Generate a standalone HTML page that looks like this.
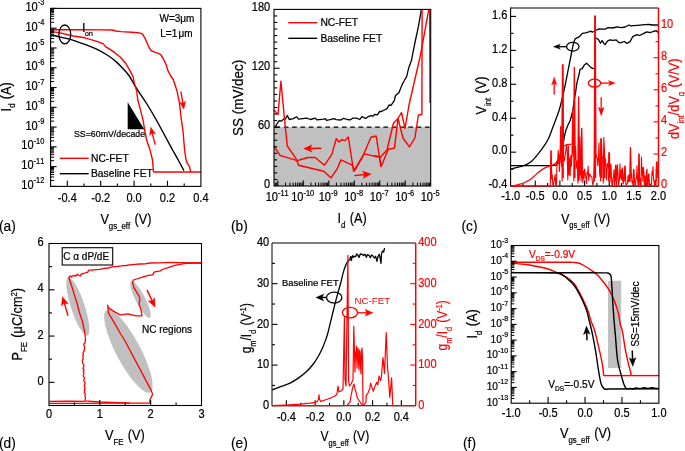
<!DOCTYPE html>
<html><head><meta charset="utf-8"><style>
html,body{margin:0;padding:0;background:#fff;overflow:hidden;}
svg{display:block;font-family:"Liberation Sans",sans-serif;will-change:transform;font-variant-ligatures:none;font-kerning:none;}
</style></head><body>
<svg width="685" height="451" viewBox="0 0 685 451">
<rect width="685" height="451" fill="#fff"/>
<path d="M50.6,34.8 C50.6,34.8 56.86,36.38 60,37.1 C63.13,37.82 66.45,38.3 69.4,39.1 C72.09,39.83 74.44,40.73 77,41.6 C79.64,42.49 82.13,43.32 85,44.4 C88.41,45.69 92.45,47.16 96.1,48.9 C99.85,50.68 103.79,52.8 107.2,55 C110.38,57.05 113.34,59.29 116,61.6 C118.47,63.74 120.52,65.94 122.7,68.3 C124.96,70.74 127.41,73.33 129.3,76 C131.08,78.51 132.18,81.12 133.8,83.8 C135.56,86.71 137.48,89.68 139.5,92.8 C141.72,96.22 144.15,99.6 146.6,103.5 C149.45,108.05 152.46,113.14 155.5,118.5 C158.93,124.54 163,132.28 166.1,138 C168.53,142.48 170.5,146.19 172.6,150 C174.52,153.49 176.34,156.61 178.2,160 C180.11,163.47 183.9,170.6 183.9,170.6" fill="none" stroke="#000" stroke-width="1.4" stroke-linejoin="round" />
<polyline points="50.6,29.8 80,29.8 100,29.9 112,30 116,31 121,31.6 131.7,32.2 138.3,32.7 142.5,33.9 145,38.3 147.2,43.3 149.4,48.3 151.6,51 154.9,52.2 158.3,53.3 161,54.9 163.8,59.9 166,64.3 167.9,70.6 170.5,75.5 173.2,79.5 176.8,90.2 179.4,102.6 181.2,118.5 183,131 184.6,150 185.9,159.3 187.3,163.3 189.5,166.6 190.3,170 190.6,172" fill="none" stroke="#f00" stroke-width="1.4" stroke-linejoin="round" />
<polyline points="50.6,31.4 60,32.9 73.3,36 85,37.8 96.1,41.1 103.3,43.9 105.5,46.6 112.7,51.1 120.5,57.2 126,63.8 130.5,71.6 133.2,77.1 134.2,82.7 136.7,91 137.9,100.8 140.4,109.6 143.1,120.3 144.8,131 146.6,140 149.8,149.2 152.5,160 153.5,172" fill="none" stroke="#f00" stroke-width="1.4" stroke-linejoin="round" />
<line x1="153.5" y1="172" x2="200.9" y2="172" stroke="#f00" stroke-width="1.4" />
<polygon points="127.7,102.2 127.7,129.3 144.2,129.3" fill="#000"/>
<text transform="translate(74 137.4)" font-size="8.8" text-anchor="start" fill="#000" stroke="#000" stroke-width="0.22">SS=60mV/decade</text>
<ellipse cx="64.8" cy="34.4" rx="5.9" ry="9.4" fill="none" stroke="#000" stroke-width="1.3"/>
<text transform="translate(82 31.9)" font-size="12.5" text-anchor="start" fill="#000" stroke="#000" stroke-width="0.22">I</text>
<text transform="translate(84.7 36.2)" font-size="7.5" text-anchor="start" fill="#000" stroke="#000" stroke-width="0.22">on</text>
<text transform="translate(159.5 22.2)" font-size="10" text-anchor="start" fill="#000" stroke="#000" stroke-width="0.22">W=3μm</text>
<text transform="translate(160.3 36.6)" font-size="10" text-anchor="start" fill="#000" stroke="#000" stroke-width="0.22">L=1<tspan dx="1.3">μm</tspan></text>
<line x1="180.9" y1="91.5" x2="182.95" y2="103.64" stroke="#f00" stroke-width="1.4" />
<polygon points="183.9,109.3 179.41,101.94 182.86,103.15 185.73,100.88" fill="#f00" stroke="#f00" stroke-width="0.3" stroke-linejoin="round"/>
<line x1="155.2" y1="144.7" x2="152.11" y2="132.56" stroke="#f00" stroke-width="1.4" />
<polygon points="150.7,127 155.77,133.96 152.24,133.05 149.57,135.54" fill="#f00" stroke="#f00" stroke-width="0.3" stroke-linejoin="round"/>
<line x1="59.8" y1="158.3" x2="88.7" y2="158.3" stroke="#f00" stroke-width="1.4" />
<text transform="translate(91 161.6)" font-size="10.3" text-anchor="start" fill="#000" stroke="#000" stroke-width="0.22">NC-FET</text>
<line x1="59.8" y1="173.7" x2="88.7" y2="173.7" stroke="#000" stroke-width="1.4" />
<text transform="translate(91 176.9)" font-size="10.3" text-anchor="start" fill="#000" stroke="#000" stroke-width="0.22">Baseline FET</text>
<rect x="50.6" y="8.4" width="150.3" height="178" fill="none" stroke="#000" stroke-width="1.1"/>
<line x1="67.3" y1="186.4" x2="67.3" y2="180.8" stroke="#000" stroke-width="1.1" />
<line x1="84" y1="186.4" x2="84" y2="183.6" stroke="#000" stroke-width="1.1" />
<line x1="100.7" y1="186.4" x2="100.7" y2="180.8" stroke="#000" stroke-width="1.1" />
<line x1="117.4" y1="186.4" x2="117.4" y2="183.6" stroke="#000" stroke-width="1.1" />
<line x1="134.1" y1="186.4" x2="134.1" y2="180.8" stroke="#000" stroke-width="1.1" />
<line x1="150.8" y1="186.4" x2="150.8" y2="183.6" stroke="#000" stroke-width="1.1" />
<line x1="167.5" y1="186.4" x2="167.5" y2="180.8" stroke="#000" stroke-width="1.1" />
<line x1="184.2" y1="186.4" x2="184.2" y2="183.6" stroke="#000" stroke-width="1.1" />
<line x1="50.6" y1="186.4" x2="56.6" y2="186.4" stroke="#000" stroke-width="1.1" />
<line x1="50.6" y1="180.45" x2="54.1" y2="180.45" stroke="#000" stroke-width="1" />
<line x1="50.6" y1="176.96" x2="54.1" y2="176.96" stroke="#000" stroke-width="1" />
<line x1="50.6" y1="174.49" x2="54.1" y2="174.49" stroke="#000" stroke-width="1" />
<line x1="50.6" y1="172.58" x2="54.1" y2="172.58" stroke="#000" stroke-width="1" />
<line x1="50.6" y1="171.01" x2="54.1" y2="171.01" stroke="#000" stroke-width="1" />
<line x1="50.6" y1="169.69" x2="54.1" y2="169.69" stroke="#000" stroke-width="1" />
<line x1="50.6" y1="168.54" x2="54.1" y2="168.54" stroke="#000" stroke-width="1" />
<line x1="50.6" y1="167.53" x2="54.1" y2="167.53" stroke="#000" stroke-width="1" />
<line x1="50.6" y1="166.62" x2="56.6" y2="166.62" stroke="#000" stroke-width="1.1" />
<line x1="50.6" y1="160.67" x2="54.1" y2="160.67" stroke="#000" stroke-width="1" />
<line x1="50.6" y1="157.19" x2="54.1" y2="157.19" stroke="#000" stroke-width="1" />
<line x1="50.6" y1="154.71" x2="54.1" y2="154.71" stroke="#000" stroke-width="1" />
<line x1="50.6" y1="152.8" x2="54.1" y2="152.8" stroke="#000" stroke-width="1" />
<line x1="50.6" y1="151.23" x2="54.1" y2="151.23" stroke="#000" stroke-width="1" />
<line x1="50.6" y1="149.91" x2="54.1" y2="149.91" stroke="#000" stroke-width="1" />
<line x1="50.6" y1="148.76" x2="54.1" y2="148.76" stroke="#000" stroke-width="1" />
<line x1="50.6" y1="147.75" x2="54.1" y2="147.75" stroke="#000" stroke-width="1" />
<line x1="50.6" y1="146.84" x2="56.6" y2="146.84" stroke="#000" stroke-width="1.1" />
<line x1="50.6" y1="140.89" x2="54.1" y2="140.89" stroke="#000" stroke-width="1" />
<line x1="50.6" y1="137.41" x2="54.1" y2="137.41" stroke="#000" stroke-width="1" />
<line x1="50.6" y1="134.94" x2="54.1" y2="134.94" stroke="#000" stroke-width="1" />
<line x1="50.6" y1="133.02" x2="54.1" y2="133.02" stroke="#000" stroke-width="1" />
<line x1="50.6" y1="131.45" x2="54.1" y2="131.45" stroke="#000" stroke-width="1" />
<line x1="50.6" y1="130.13" x2="54.1" y2="130.13" stroke="#000" stroke-width="1" />
<line x1="50.6" y1="128.98" x2="54.1" y2="128.98" stroke="#000" stroke-width="1" />
<line x1="50.6" y1="127.97" x2="54.1" y2="127.97" stroke="#000" stroke-width="1" />
<line x1="50.6" y1="127.07" x2="56.6" y2="127.07" stroke="#000" stroke-width="1.1" />
<line x1="50.6" y1="121.11" x2="54.1" y2="121.11" stroke="#000" stroke-width="1" />
<line x1="50.6" y1="117.63" x2="54.1" y2="117.63" stroke="#000" stroke-width="1" />
<line x1="50.6" y1="115.16" x2="54.1" y2="115.16" stroke="#000" stroke-width="1" />
<line x1="50.6" y1="113.24" x2="54.1" y2="113.24" stroke="#000" stroke-width="1" />
<line x1="50.6" y1="111.68" x2="54.1" y2="111.68" stroke="#000" stroke-width="1" />
<line x1="50.6" y1="110.35" x2="54.1" y2="110.35" stroke="#000" stroke-width="1" />
<line x1="50.6" y1="109.21" x2="54.1" y2="109.21" stroke="#000" stroke-width="1" />
<line x1="50.6" y1="108.19" x2="54.1" y2="108.19" stroke="#000" stroke-width="1" />
<line x1="50.6" y1="107.29" x2="56.6" y2="107.29" stroke="#000" stroke-width="1.1" />
<line x1="50.6" y1="101.34" x2="54.1" y2="101.34" stroke="#000" stroke-width="1" />
<line x1="50.6" y1="97.85" x2="54.1" y2="97.85" stroke="#000" stroke-width="1" />
<line x1="50.6" y1="95.38" x2="54.1" y2="95.38" stroke="#000" stroke-width="1" />
<line x1="50.6" y1="93.46" x2="54.1" y2="93.46" stroke="#000" stroke-width="1" />
<line x1="50.6" y1="91.9" x2="54.1" y2="91.9" stroke="#000" stroke-width="1" />
<line x1="50.6" y1="90.57" x2="54.1" y2="90.57" stroke="#000" stroke-width="1" />
<line x1="50.6" y1="89.43" x2="54.1" y2="89.43" stroke="#000" stroke-width="1" />
<line x1="50.6" y1="88.42" x2="54.1" y2="88.42" stroke="#000" stroke-width="1" />
<line x1="50.6" y1="87.51" x2="56.6" y2="87.51" stroke="#000" stroke-width="1.1" />
<line x1="50.6" y1="81.56" x2="54.1" y2="81.56" stroke="#000" stroke-width="1" />
<line x1="50.6" y1="78.07" x2="54.1" y2="78.07" stroke="#000" stroke-width="1" />
<line x1="50.6" y1="75.6" x2="54.1" y2="75.6" stroke="#000" stroke-width="1" />
<line x1="50.6" y1="73.69" x2="54.1" y2="73.69" stroke="#000" stroke-width="1" />
<line x1="50.6" y1="72.12" x2="54.1" y2="72.12" stroke="#000" stroke-width="1" />
<line x1="50.6" y1="70.8" x2="54.1" y2="70.8" stroke="#000" stroke-width="1" />
<line x1="50.6" y1="69.65" x2="54.1" y2="69.65" stroke="#000" stroke-width="1" />
<line x1="50.6" y1="68.64" x2="54.1" y2="68.64" stroke="#000" stroke-width="1" />
<line x1="50.6" y1="67.73" x2="56.6" y2="67.73" stroke="#000" stroke-width="1.1" />
<line x1="50.6" y1="61.78" x2="54.1" y2="61.78" stroke="#000" stroke-width="1" />
<line x1="50.6" y1="58.3" x2="54.1" y2="58.3" stroke="#000" stroke-width="1" />
<line x1="50.6" y1="55.83" x2="54.1" y2="55.83" stroke="#000" stroke-width="1" />
<line x1="50.6" y1="53.91" x2="54.1" y2="53.91" stroke="#000" stroke-width="1" />
<line x1="50.6" y1="52.34" x2="54.1" y2="52.34" stroke="#000" stroke-width="1" />
<line x1="50.6" y1="51.02" x2="54.1" y2="51.02" stroke="#000" stroke-width="1" />
<line x1="50.6" y1="49.87" x2="54.1" y2="49.87" stroke="#000" stroke-width="1" />
<line x1="50.6" y1="48.86" x2="54.1" y2="48.86" stroke="#000" stroke-width="1" />
<line x1="50.6" y1="47.96" x2="56.6" y2="47.96" stroke="#000" stroke-width="1.1" />
<line x1="50.6" y1="42" x2="54.1" y2="42" stroke="#000" stroke-width="1" />
<line x1="50.6" y1="38.52" x2="54.1" y2="38.52" stroke="#000" stroke-width="1" />
<line x1="50.6" y1="36.05" x2="54.1" y2="36.05" stroke="#000" stroke-width="1" />
<line x1="50.6" y1="34.13" x2="54.1" y2="34.13" stroke="#000" stroke-width="1" />
<line x1="50.6" y1="32.57" x2="54.1" y2="32.57" stroke="#000" stroke-width="1" />
<line x1="50.6" y1="31.24" x2="54.1" y2="31.24" stroke="#000" stroke-width="1" />
<line x1="50.6" y1="30.09" x2="54.1" y2="30.09" stroke="#000" stroke-width="1" />
<line x1="50.6" y1="29.08" x2="54.1" y2="29.08" stroke="#000" stroke-width="1" />
<line x1="50.6" y1="28.18" x2="56.6" y2="28.18" stroke="#000" stroke-width="1.1" />
<line x1="50.6" y1="22.22" x2="54.1" y2="22.22" stroke="#000" stroke-width="1" />
<line x1="50.6" y1="18.74" x2="54.1" y2="18.74" stroke="#000" stroke-width="1" />
<line x1="50.6" y1="16.27" x2="54.1" y2="16.27" stroke="#000" stroke-width="1" />
<line x1="50.6" y1="14.35" x2="54.1" y2="14.35" stroke="#000" stroke-width="1" />
<line x1="50.6" y1="12.79" x2="54.1" y2="12.79" stroke="#000" stroke-width="1" />
<line x1="50.6" y1="11.46" x2="54.1" y2="11.46" stroke="#000" stroke-width="1" />
<line x1="50.6" y1="10.32" x2="54.1" y2="10.32" stroke="#000" stroke-width="1" />
<line x1="50.6" y1="9.3" x2="54.1" y2="9.3" stroke="#000" stroke-width="1" />
<line x1="50.6" y1="8.4" x2="56.6" y2="8.4" stroke="#000" stroke-width="1.1" />
<text transform="translate(67.3 202) scale(0.91 1)" font-size="12.1" text-anchor="middle" fill="#000" stroke="#000" stroke-width="0.22">-0.4</text>
<text transform="translate(100.7 202) scale(0.91 1)" font-size="12.1" text-anchor="middle" fill="#000" stroke="#000" stroke-width="0.22">-0.2</text>
<text transform="translate(134.1 202) scale(0.91 1)" font-size="12.1" text-anchor="middle" fill="#000" stroke="#000" stroke-width="0.22">0.0</text>
<text transform="translate(167.5 202) scale(0.91 1)" font-size="12.1" text-anchor="middle" fill="#000" stroke="#000" stroke-width="0.22">0.2</text>
<text transform="translate(200.9 202) scale(0.91 1)" font-size="12.1" text-anchor="middle" fill="#000" stroke="#000" stroke-width="0.22">0.4</text>
<text transform="translate(44.3 189) scale(0.91 1)" font-size="12.1" text-anchor="end" fill="#000" stroke="#000" stroke-width="0.22">10<tspan font-size="8.2" dy="-5.6">-12</tspan></text>
<text transform="translate(44.3 169.22) scale(0.91 1)" font-size="12.1" text-anchor="end" fill="#000" stroke="#000" stroke-width="0.22">10<tspan font-size="8.2" dy="-5.6">-11</tspan></text>
<text transform="translate(44.3 149.44) scale(0.91 1)" font-size="12.1" text-anchor="end" fill="#000" stroke="#000" stroke-width="0.22">10<tspan font-size="8.2" dy="-5.6">-10</tspan></text>
<text transform="translate(44.3 129.67) scale(0.91 1)" font-size="12.1" text-anchor="end" fill="#000" stroke="#000" stroke-width="0.22">10<tspan font-size="8.2" dy="-5.6">-9</tspan></text>
<text transform="translate(44.3 109.89) scale(0.91 1)" font-size="12.1" text-anchor="end" fill="#000" stroke="#000" stroke-width="0.22">10<tspan font-size="8.2" dy="-5.6">-8</tspan></text>
<text transform="translate(44.3 90.11) scale(0.91 1)" font-size="12.1" text-anchor="end" fill="#000" stroke="#000" stroke-width="0.22">10<tspan font-size="8.2" dy="-5.6">-7</tspan></text>
<text transform="translate(44.3 70.33) scale(0.91 1)" font-size="12.1" text-anchor="end" fill="#000" stroke="#000" stroke-width="0.22">10<tspan font-size="8.2" dy="-5.6">-6</tspan></text>
<text transform="translate(44.3 50.56) scale(0.91 1)" font-size="12.1" text-anchor="end" fill="#000" stroke="#000" stroke-width="0.22">10<tspan font-size="8.2" dy="-5.6">-5</tspan></text>
<text transform="translate(44.3 30.78) scale(0.91 1)" font-size="12.1" text-anchor="end" fill="#000" stroke="#000" stroke-width="0.22">10<tspan font-size="8.2" dy="-5.6">-4</tspan></text>
<text transform="translate(44.3 11) scale(0.91 1)" font-size="12.1" text-anchor="end" fill="#000" stroke="#000" stroke-width="0.22">10<tspan font-size="8.2" dy="-5.6">-3</tspan></text>
<text transform="translate(100.4 223.8) scale(0.87 1)" font-size="14.6" text-anchor="start" fill="#000" stroke="#000" stroke-width="0.22">V<tspan font-size="9.0" dy="4.8">gs_eff</tspan><tspan dy="-4.8" dx="1"> (V)</tspan></text>
<text transform="translate(10.6 111.4) rotate(-90) scale(0.87 1)" font-size="14.6" text-anchor="start" fill="#000" stroke="#000" stroke-width="0.22">I<tspan font-size="9.0" dy="4.8">d</tspan><tspan dy="-4.8" dx="1"> (A)</tspan></text>
<text transform="translate(-1 230.8) scale(0.93 1)" font-size="14.8" text-anchor="start" fill="#000" stroke="#000" stroke-width="0.15">(a)</text>
<rect x="274" y="127.13" width="156.7" height="58.87" fill="#c0c0c0" />
<line x1="274" y1="127.13" x2="430.7" y2="127.13" stroke="#000" stroke-width="1.2" stroke-dasharray="4.7 3.6" stroke-dashoffset="-1.5"/>
<polyline points="274.7,127.9 277.3,123.2 279.3,120.6 281.3,121.2 284,118.6 285.3,119.2 287.3,115.5 289.3,119.5 293.3,118.6 296.6,116.8 298.6,119.2 302.6,118.6 306.6,118.2 310.6,119.5 315.2,118.2 317.2,119.9 323.9,119.2 325.2,118.6 326.5,120.3 330,119.7 333.9,118.7 336.2,119.7 340.9,120 343.6,118.3 347.1,119.5 350.6,119.8 352.9,118.1 356.4,118.1 359.9,119.5 361.8,116.6 365.7,118.4 368,116.7 371.1,115.6 373.1,116.1 374.6,114.3 377.4,114.8 379.7,111.3 381,111.7 384.3,110 387,108.6 389,105 391,105.3 394.3,100.7 395.5,95.5 398.9,92.7 400.5,88.8 402.7,83.3 404.4,80.5 406.6,76.6 408.8,67.7 411.6,60 412.7,53.8 415.5,40 418.3,27.2 421.4,9.4" fill="none" stroke="#000" stroke-width="1.3" stroke-linejoin="round" />
<polyline points="274,109.9 278,114.6 280.9,81.3 284.6,120 287.3,146 296,158.6 298.6,165.2 311,168.2 323.9,171.2 331,177.9 337,169.2 341,159.9 352.3,165.2 354.3,170 363.6,154.6 370.9,137.3 376.2,136 381,166.6 385,157.3 388.3,149.3 394.5,148.1 398,118.5 403,138 409.4,146.9 414.9,138 418.4,115 421.9,114.5 422.1,9.4" fill="none" stroke="#f00" stroke-width="1.4" stroke-linejoin="round" />
<polyline points="274,146 280,155.3 297.3,160.6 307.9,157.5 315.2,157.5 324.5,165.2 331.7,154.6 336.3,138.6 339,142 341.6,139.7 345,140.6 348.3,137 353.6,171.2 355.6,169.2 364.2,153.9 379.5,157.2 381,166.6" fill="none" stroke="#f00" stroke-width="1.4" stroke-linejoin="round" />
<polyline points="375,155.3 380.3,157.3 387,150 393.5,123 398,118.5 401.5,112.5 405,128.5 409,105 420.5,55 428.8,9.4" fill="none" stroke="#f00" stroke-width="1.4" stroke-linejoin="round" />
<line x1="429.7" y1="9.4" x2="429.9" y2="103" stroke="#f00" stroke-width="1.3" />
<line x1="321.2" y1="148.3" x2="309.73" y2="148.5" stroke="#f00" stroke-width="1.4" />
<polygon points="303.6,148.6 312.04,144.76 310.23,148.49 312.16,152.15" fill="#f00" stroke="#f00" stroke-width="0.3" stroke-linejoin="round"/>
<line x1="354.3" y1="175.6" x2="365.1" y2="174.51" stroke="#f00" stroke-width="1.4" />
<polygon points="371.2,173.9 363.11,178.43 364.6,174.56 362.37,171.07" fill="#f00" stroke="#f00" stroke-width="0.3" stroke-linejoin="round"/>
<line x1="288.3" y1="22.7" x2="317.2" y2="22.7" stroke="#f00" stroke-width="1.4" />
<text transform="translate(320.4 25.9)" font-size="10.3" text-anchor="start" fill="#000" stroke="#000" stroke-width="0.22">NC-FET</text>
<line x1="288.3" y1="38.3" x2="317.2" y2="38.3" stroke="#000" stroke-width="1.4" />
<text transform="translate(320.4 41.7)" font-size="10.3" text-anchor="start" fill="#000" stroke="#000" stroke-width="0.22">Baseline FET</text>
<rect x="274.0" y="9.4" width="156.7" height="176.6" fill="none" stroke="#000" stroke-width="1.1"/>
<line x1="274" y1="179.46" x2="277.2" y2="179.46" stroke="#000" stroke-width="1.1" />
<line x1="274" y1="172.92" x2="277.2" y2="172.92" stroke="#000" stroke-width="1.1" />
<line x1="274" y1="166.38" x2="277.2" y2="166.38" stroke="#000" stroke-width="1.1" />
<line x1="274" y1="159.84" x2="277.2" y2="159.84" stroke="#000" stroke-width="1.1" />
<line x1="274" y1="153.3" x2="277.2" y2="153.3" stroke="#000" stroke-width="1.1" />
<line x1="274" y1="146.76" x2="277.2" y2="146.76" stroke="#000" stroke-width="1.1" />
<line x1="274" y1="140.21" x2="277.2" y2="140.21" stroke="#000" stroke-width="1.1" />
<line x1="274" y1="133.67" x2="277.2" y2="133.67" stroke="#000" stroke-width="1.1" />
<line x1="274" y1="127.13" x2="279.5" y2="127.13" stroke="#000" stroke-width="1.1" />
<line x1="274" y1="120.59" x2="277.2" y2="120.59" stroke="#000" stroke-width="1.1" />
<line x1="274" y1="114.05" x2="277.2" y2="114.05" stroke="#000" stroke-width="1.1" />
<line x1="274" y1="107.51" x2="277.2" y2="107.51" stroke="#000" stroke-width="1.1" />
<line x1="274" y1="100.97" x2="277.2" y2="100.97" stroke="#000" stroke-width="1.1" />
<line x1="274" y1="94.43" x2="277.2" y2="94.43" stroke="#000" stroke-width="1.1" />
<line x1="274" y1="87.89" x2="277.2" y2="87.89" stroke="#000" stroke-width="1.1" />
<line x1="274" y1="81.35" x2="277.2" y2="81.35" stroke="#000" stroke-width="1.1" />
<line x1="274" y1="74.81" x2="277.2" y2="74.81" stroke="#000" stroke-width="1.1" />
<line x1="274" y1="68.27" x2="279.5" y2="68.27" stroke="#000" stroke-width="1.1" />
<line x1="274" y1="61.73" x2="277.2" y2="61.73" stroke="#000" stroke-width="1.1" />
<line x1="274" y1="55.19" x2="277.2" y2="55.19" stroke="#000" stroke-width="1.1" />
<line x1="274" y1="48.64" x2="277.2" y2="48.64" stroke="#000" stroke-width="1.1" />
<line x1="274" y1="42.1" x2="277.2" y2="42.1" stroke="#000" stroke-width="1.1" />
<line x1="274" y1="35.56" x2="277.2" y2="35.56" stroke="#000" stroke-width="1.1" />
<line x1="274" y1="29.02" x2="277.2" y2="29.02" stroke="#000" stroke-width="1.1" />
<line x1="274" y1="22.48" x2="277.2" y2="22.48" stroke="#000" stroke-width="1.1" />
<line x1="274" y1="15.94" x2="277.2" y2="15.94" stroke="#000" stroke-width="1.1" />
<line x1="275.35" y1="186" x2="275.35" y2="182.6" stroke="#000" stroke-width="1" />
<line x1="276.65" y1="186" x2="276.65" y2="182.6" stroke="#000" stroke-width="1" />
<line x1="277.82" y1="186" x2="277.82" y2="180.5" stroke="#000" stroke-width="1.1" />
<line x1="285.49" y1="186" x2="285.49" y2="182.6" stroke="#000" stroke-width="1" />
<line x1="289.98" y1="186" x2="289.98" y2="182.6" stroke="#000" stroke-width="1" />
<line x1="293.16" y1="186" x2="293.16" y2="182.6" stroke="#000" stroke-width="1" />
<line x1="295.63" y1="186" x2="295.63" y2="182.6" stroke="#000" stroke-width="1" />
<line x1="297.65" y1="186" x2="297.65" y2="182.6" stroke="#000" stroke-width="1" />
<line x1="299.35" y1="186" x2="299.35" y2="182.6" stroke="#000" stroke-width="1" />
<line x1="300.83" y1="186" x2="300.83" y2="182.6" stroke="#000" stroke-width="1" />
<line x1="302.13" y1="186" x2="302.13" y2="182.6" stroke="#000" stroke-width="1" />
<line x1="303.3" y1="186" x2="303.3" y2="180.5" stroke="#000" stroke-width="1.1" />
<line x1="310.97" y1="186" x2="310.97" y2="182.6" stroke="#000" stroke-width="1" />
<line x1="315.46" y1="186" x2="315.46" y2="182.6" stroke="#000" stroke-width="1" />
<line x1="318.64" y1="186" x2="318.64" y2="182.6" stroke="#000" stroke-width="1" />
<line x1="321.11" y1="186" x2="321.11" y2="182.6" stroke="#000" stroke-width="1" />
<line x1="323.13" y1="186" x2="323.13" y2="182.6" stroke="#000" stroke-width="1" />
<line x1="324.83" y1="186" x2="324.83" y2="182.6" stroke="#000" stroke-width="1" />
<line x1="326.31" y1="186" x2="326.31" y2="182.6" stroke="#000" stroke-width="1" />
<line x1="327.61" y1="186" x2="327.61" y2="182.6" stroke="#000" stroke-width="1" />
<line x1="328.78" y1="186" x2="328.78" y2="180.5" stroke="#000" stroke-width="1.1" />
<line x1="336.45" y1="186" x2="336.45" y2="182.6" stroke="#000" stroke-width="1" />
<line x1="340.94" y1="186" x2="340.94" y2="182.6" stroke="#000" stroke-width="1" />
<line x1="344.12" y1="186" x2="344.12" y2="182.6" stroke="#000" stroke-width="1" />
<line x1="346.59" y1="186" x2="346.59" y2="182.6" stroke="#000" stroke-width="1" />
<line x1="348.61" y1="186" x2="348.61" y2="182.6" stroke="#000" stroke-width="1" />
<line x1="350.31" y1="186" x2="350.31" y2="182.6" stroke="#000" stroke-width="1" />
<line x1="351.79" y1="186" x2="351.79" y2="182.6" stroke="#000" stroke-width="1" />
<line x1="353.09" y1="186" x2="353.09" y2="182.6" stroke="#000" stroke-width="1" />
<line x1="354.26" y1="186" x2="354.26" y2="180.5" stroke="#000" stroke-width="1.1" />
<line x1="361.93" y1="186" x2="361.93" y2="182.6" stroke="#000" stroke-width="1" />
<line x1="366.42" y1="186" x2="366.42" y2="182.6" stroke="#000" stroke-width="1" />
<line x1="369.6" y1="186" x2="369.6" y2="182.6" stroke="#000" stroke-width="1" />
<line x1="372.07" y1="186" x2="372.07" y2="182.6" stroke="#000" stroke-width="1" />
<line x1="374.09" y1="186" x2="374.09" y2="182.6" stroke="#000" stroke-width="1" />
<line x1="375.79" y1="186" x2="375.79" y2="182.6" stroke="#000" stroke-width="1" />
<line x1="377.27" y1="186" x2="377.27" y2="182.6" stroke="#000" stroke-width="1" />
<line x1="378.57" y1="186" x2="378.57" y2="182.6" stroke="#000" stroke-width="1" />
<line x1="379.74" y1="186" x2="379.74" y2="180.5" stroke="#000" stroke-width="1.1" />
<line x1="387.41" y1="186" x2="387.41" y2="182.6" stroke="#000" stroke-width="1" />
<line x1="391.9" y1="186" x2="391.9" y2="182.6" stroke="#000" stroke-width="1" />
<line x1="395.08" y1="186" x2="395.08" y2="182.6" stroke="#000" stroke-width="1" />
<line x1="397.55" y1="186" x2="397.55" y2="182.6" stroke="#000" stroke-width="1" />
<line x1="399.57" y1="186" x2="399.57" y2="182.6" stroke="#000" stroke-width="1" />
<line x1="401.27" y1="186" x2="401.27" y2="182.6" stroke="#000" stroke-width="1" />
<line x1="402.75" y1="186" x2="402.75" y2="182.6" stroke="#000" stroke-width="1" />
<line x1="404.05" y1="186" x2="404.05" y2="182.6" stroke="#000" stroke-width="1" />
<line x1="405.22" y1="186" x2="405.22" y2="180.5" stroke="#000" stroke-width="1.1" />
<line x1="412.89" y1="186" x2="412.89" y2="182.6" stroke="#000" stroke-width="1" />
<line x1="417.38" y1="186" x2="417.38" y2="182.6" stroke="#000" stroke-width="1" />
<line x1="420.56" y1="186" x2="420.56" y2="182.6" stroke="#000" stroke-width="1" />
<line x1="423.03" y1="186" x2="423.03" y2="182.6" stroke="#000" stroke-width="1" />
<line x1="425.05" y1="186" x2="425.05" y2="182.6" stroke="#000" stroke-width="1" />
<line x1="426.75" y1="186" x2="426.75" y2="182.6" stroke="#000" stroke-width="1" />
<line x1="428.23" y1="186" x2="428.23" y2="182.6" stroke="#000" stroke-width="1" />
<line x1="429.53" y1="186" x2="429.53" y2="182.6" stroke="#000" stroke-width="1" />
<text transform="translate(270.2 188) scale(0.91 1)" font-size="12.1" text-anchor="end" fill="#000" stroke="#000" stroke-width="0.22">0</text>
<text transform="translate(270.2 129.13) scale(0.91 1)" font-size="12.1" text-anchor="end" fill="#000" stroke="#000" stroke-width="0.22">60</text>
<text transform="translate(270.2 70.27) scale(0.91 1)" font-size="12.1" text-anchor="end" fill="#000" stroke="#000" stroke-width="0.22">120</text>
<text transform="translate(270.2 11.4) scale(0.91 1)" font-size="12.1" text-anchor="end" fill="#000" stroke="#000" stroke-width="0.22">180</text>
<text transform="translate(277.22 201.2) scale(0.91 1)" font-size="12.1" text-anchor="middle" fill="#000" stroke="#000" stroke-width="0.22">10<tspan font-size="8.2" dy="-5.6">-11</tspan></text>
<text transform="translate(302.7 201.2) scale(0.91 1)" font-size="12.1" text-anchor="middle" fill="#000" stroke="#000" stroke-width="0.22">10<tspan font-size="8.2" dy="-5.6">-10</tspan></text>
<text transform="translate(328.18 201.2) scale(0.91 1)" font-size="12.1" text-anchor="middle" fill="#000" stroke="#000" stroke-width="0.22">10<tspan font-size="8.2" dy="-5.6">-9</tspan></text>
<text transform="translate(353.66 201.2) scale(0.91 1)" font-size="12.1" text-anchor="middle" fill="#000" stroke="#000" stroke-width="0.22">10<tspan font-size="8.2" dy="-5.6">-8</tspan></text>
<text transform="translate(379.14 201.2) scale(0.91 1)" font-size="12.1" text-anchor="middle" fill="#000" stroke="#000" stroke-width="0.22">10<tspan font-size="8.2" dy="-5.6">-7</tspan></text>
<text transform="translate(404.62 201.2) scale(0.91 1)" font-size="12.1" text-anchor="middle" fill="#000" stroke="#000" stroke-width="0.22">10<tspan font-size="8.2" dy="-5.6">-6</tspan></text>
<text transform="translate(430.1 201.2) scale(0.91 1)" font-size="12.1" text-anchor="middle" fill="#000" stroke="#000" stroke-width="0.22">10<tspan font-size="8.2" dy="-5.6">-5</tspan></text>
<text transform="translate(337.5 223) scale(0.87 1)" font-size="14.6" text-anchor="start" fill="#000" stroke="#000" stroke-width="0.22">I<tspan font-size="9.0" dy="4.8">d</tspan><tspan dy="-4.8" dx="1"> (A)</tspan></text>
<text transform="translate(243.2 135.9) rotate(-90) scale(0.92 1)" font-size="14.6" text-anchor="start" fill="#000" stroke="#000" stroke-width="0.22">SS (mV/dec)</text>
<text transform="translate(231 231) scale(0.93 1)" font-size="14.8" text-anchor="start" fill="#000" stroke="#000" stroke-width="0.15">(b)</text>
<line x1="510.6" y1="8" x2="658.5" y2="8" stroke="#000" stroke-width="1" />
<line x1="510.6" y1="7.5" x2="510.6" y2="186.6" stroke="#000" stroke-width="1.1" />
<line x1="510.1" y1="186.1" x2="658.5" y2="186.1" stroke="#000" stroke-width="1.1" />
<line x1="522.93" y1="186.1" x2="522.93" y2="183.1" stroke="#000" stroke-width="1.1" />
<line x1="535.25" y1="186.1" x2="535.25" y2="180.6" stroke="#000" stroke-width="1.1" />
<line x1="547.58" y1="186.1" x2="547.58" y2="183.1" stroke="#000" stroke-width="1.1" />
<line x1="559.9" y1="186.1" x2="559.9" y2="180.6" stroke="#000" stroke-width="1.1" />
<line x1="572.23" y1="186.1" x2="572.23" y2="183.1" stroke="#000" stroke-width="1.1" />
<line x1="584.55" y1="186.1" x2="584.55" y2="180.6" stroke="#000" stroke-width="1.1" />
<line x1="596.88" y1="186.1" x2="596.88" y2="183.1" stroke="#000" stroke-width="1.1" />
<line x1="609.2" y1="186.1" x2="609.2" y2="180.6" stroke="#000" stroke-width="1.1" />
<line x1="621.52" y1="186.1" x2="621.52" y2="183.1" stroke="#000" stroke-width="1.1" />
<line x1="633.85" y1="186.1" x2="633.85" y2="180.6" stroke="#000" stroke-width="1.1" />
<line x1="646.17" y1="186.1" x2="646.17" y2="183.1" stroke="#000" stroke-width="1.1" />
<line x1="510.6" y1="169.13" x2="513.6" y2="169.13" stroke="#000" stroke-width="1.1" />
<line x1="510.6" y1="152.16" x2="516.1" y2="152.16" stroke="#000" stroke-width="1.1" />
<line x1="510.6" y1="135.19" x2="513.6" y2="135.19" stroke="#000" stroke-width="1.1" />
<line x1="510.6" y1="118.22" x2="516.1" y2="118.22" stroke="#000" stroke-width="1.1" />
<line x1="510.6" y1="101.25" x2="513.6" y2="101.25" stroke="#000" stroke-width="1.1" />
<line x1="510.6" y1="84.28" x2="516.1" y2="84.28" stroke="#000" stroke-width="1.1" />
<line x1="510.6" y1="67.31" x2="513.6" y2="67.31" stroke="#000" stroke-width="1.1" />
<line x1="510.6" y1="50.34" x2="516.1" y2="50.34" stroke="#000" stroke-width="1.1" />
<line x1="510.6" y1="33.37" x2="513.6" y2="33.37" stroke="#000" stroke-width="1.1" />
<line x1="510.6" y1="16.4" x2="516.1" y2="16.4" stroke="#000" stroke-width="1.1" />
<line x1="510.6" y1="165.6" x2="553" y2="165.6" stroke="#000" stroke-width="1.3" />
<path d="M510.6,169.2 C510.6,169.2 515.83,167.89 518.3,167.2 C520.62,166.55 522.83,166.16 525,165.2 C527.27,164.19 529.52,162.92 531.6,161.2 C533.95,159.26 536.06,156.54 538.2,153.9 C540.51,151.05 543.08,147.34 544.9,144.6 C546.27,142.53 547.21,141.21 548.3,139 C549.73,136.1 551.09,131.92 552.4,128.5 C553.65,125.26 554.85,122.13 556,119 C557.11,115.97 558.1,113.68 559.2,110 C560.88,104.38 562.98,95.26 564.5,88.4 C565.87,82.22 566.83,76.6 568,70.7 C569.17,64.8 570.52,57.88 571.5,53 C572.19,49.56 572.61,46.76 573.3,44.2 C573.85,42.16 575.1,38.8 575.1,38.8" fill="none" stroke="#000" stroke-width="1.3" stroke-linejoin="round" />
<polyline points="575.1,38.8 578.6,37.1 580,36.1 582.2,33.3 585.5,32.8 588.9,31.9 591.1,31.1 592.2,32.2 594,31.5 596.6,30 598.8,28.9 603.3,29.2 605,29.1 608.2,27.7 613,28 617,26.9 621.1,27.7 625.1,27 629.1,25 630.7,25.8 637.1,25.3 645.2,24.6 648.4,24.5 653.2,25 658.5,24.8" fill="none" stroke="#000" stroke-width="1.3" stroke-linejoin="round" />
<polyline points="553,165.6 556.5,165 559.5,161 561.5,153 563,145 564.5,136 566,130 568,125 570,121 572.5,112 574.8,97 575.5,93 576.9,83.1 579.5,72.5 580,69.3 582.2,68.7 584.4,64.9 586.6,63.2 588.9,65.4 591.1,67.6 593.3,68.7 595.2,68.7 595.2,38.3 596.4,38.3 598.3,39.4 600.5,43.3 602.1,40.5 603.8,43.3 605,44.7 607.4,41.1 609.8,39.9 613,40.3 616.2,39.9 619.1,42.7 621.1,42.7 624.3,41.5 626.7,43.3 629.9,41.9 632.7,36.7 637.1,34.7 639.5,35.5 642.8,33.9 646.8,31.9 650,32.7 653.2,31.5 656.4,30.7 658.5,32.7" fill="none" stroke="#000" stroke-width="1.3" stroke-linejoin="round" />
<path d="M510.6,186.1 C510.6,186.1 515.84,185.22 518.3,184.6 C520.63,184.01 522.83,183.48 525,182.5 C527.27,181.47 529.47,180.08 531.6,178.5 C533.88,176.81 535.94,174.39 538.2,172.6 C540.38,170.87 542.63,169.09 544.9,167.9 C546.94,166.83 549.36,166.24 551.1,165.6 C552.37,165.13 553.37,165.13 554.4,164.4 C555.71,163.47 556.97,161.78 558,160 C559.26,157.81 560,154.4 561,152 C561.84,149.98 562.45,147.68 563.5,146.5 C564.23,145.68 564.97,145.38 566,145 C567.4,144.48 571.3,144.1 571.3,144.1" fill="none" stroke="#f00" stroke-width="1.3" stroke-linejoin="round" />
<polyline points="510.6,186.1 549.4,186 550.3,185 551,150.79 551.6,178.86 552.2,174.9 552.8,184.58 553.4,186.1 554,181.71 554.6,178.22 555.2,174.23 555.8,186.1 556.4,186.1 557,160.99 557.6,163.96 558.2,150.36 558.8,157.44 559.4,171.36 560,160.51 560.6,126.27 561.2,160.69 561.8,166.66 562.4,64.76 563,64.76 563.6,155.46 564.2,161.36 564.8,157.96 565.4,153.92 566,148.88 566.6,144.01 567.2,152.74 567.8,180.02 568.4,146.03 569,174.97 569.6,157.94 570.2,175.71 570.8,155.58 571.4,166.23 572,152.69 572.6,110.58 573.2,156.27 573.8,144.11 574.4,67.33 575,159.53 575.6,146.57 576.2,168.33 576.8,160.9 577.4,165.18 578,182.99 578.6,97.02 579.2,179.87 579.8,136.8 580.4,174.95 581,155.83 581.6,128.32 582.2,171.2 582.8,182.42 583.4,170.86 584,178.97 584.6,168.95 585.2,173.57 585.8,177.05 586.4,183.71 587,172.53 587.6,174.69 588.2,166.22 588.8,180.8 589.4,174.07 590,174.41 590.6,176.03 591.2,176.57 591.8,176.76 592.4,182.4 593,185.4 593.6,180.94 594.2,159.91 594.8,15.97 595.4,15.97 596,153.23 596.6,157.22 597.2,158.36 597.8,165.8 598.4,157.3 599,142.82 599.6,173.18 600.2,177.35 600.8,138.75 601.4,138.75 602,155.98 602.6,157.22 603.2,183.03 603.8,137.2 604.4,149.19 605,166.17 605.5,158.78 606,166.82 606.5,179.8 607,169.88 607.5,163.64 608,164.12 608.5,168.03 609,152.72 609.5,152.72 610,182.19 610.5,167.23 611,164.15 611.5,177.68 612,186.1 612.5,185.5 613,178.16 613.5,176.29 614,169.74 614.5,186.1 615,179.67 615.5,165.23 616,165.23 616.5,186.1 617,174.5 617.5,164.84 618,173.23 618.5,185.57 619,182.33 619.5,178.26 620,163.7 620.5,175.72 621,178.95 621.5,169.68 622,180.2 622.5,167.73 623,184.08 623.5,182.73 624,175.05 624.5,170.54 625,166.04 625.5,177.74 626,186.1 626.5,184.26 627,183.6 627.5,183.11 628,175.92 628.5,181.83 629,174.62 629.5,179.15 630,181.82 630.5,147.58 631,176.93 631.5,174.17 632,182.75 632.5,181.17 633,186.1 633.5,169.38 634,170.36 634.5,180.83 635,182.75 635.5,186.1 636,178.59 636.5,178.36 637,165.67 637.5,178.1 638,184.67 638.5,186.1 639,154 639.5,178.46 640,186.1 640.5,178.52 641,186.1 641.5,157.34 642,172.5 642.5,176 643,167.64 643.5,167.64 644,180.49 644.5,186.1 645,175.85 645.5,186.1 646,185.51 646.5,171.85 647,169.13 647.5,186.1 648,186.1 648.5,174.03 649,174.2 649.5,186.01 650,184.14 650.5,184.14 651,186.1 651.5,184.05 652,171.65 652.5,175.25 653,166.48 653.5,180.23 654,180.55 654.5,185.99 655,180.47 655.5,186.1 656,186.1 656.5,162.02 657,162.02 657.5,174.31" fill="none" stroke="#f00" stroke-width="1.1" stroke-linejoin="round" />
<polyline points="550.5,181.28 551.1,150.79 551.7,178.07" fill="none" stroke="#f00" stroke-width="1.2" stroke-linejoin="round" />
<polyline points="562.1,181.28 562.7,64.76 563.3,178.07" fill="none" stroke="#f00" stroke-width="1.2" stroke-linejoin="round" />
<polyline points="573.8,181.28 574.4,67.33 575,178.07" fill="none" stroke="#f00" stroke-width="1.2" stroke-linejoin="round" />
<polyline points="578,181.28 578.6,97.02 579.2,178.07" fill="none" stroke="#f00" stroke-width="1.2" stroke-linejoin="round" />
<polyline points="581.1,181.28 581.7,128.32 582.3,178.07" fill="none" stroke="#f00" stroke-width="1.2" stroke-linejoin="round" />
<polyline points="594.4,181.28 595,15.97 595.6,178.07" fill="none" stroke="#f00" stroke-width="1.2" stroke-linejoin="round" />
<polyline points="600.6,181.28 601.2,138.75 601.8,178.07" fill="none" stroke="#f00" stroke-width="1.2" stroke-linejoin="round" />
<polyline points="603.7,181.28 604.3,149.19 604.9,178.07" fill="none" stroke="#f00" stroke-width="1.2" stroke-linejoin="round" />
<polyline points="608.5,181.28 609.1,152.72 609.7,178.07" fill="none" stroke="#f00" stroke-width="1.2" stroke-linejoin="round" />
<polyline points="629.9,181.28 630.5,147.58 631.1,178.07" fill="none" stroke="#f00" stroke-width="1.2" stroke-linejoin="round" />
<polyline points="638.4,181.28 639,154 639.6,178.07" fill="none" stroke="#f00" stroke-width="1.2" stroke-linejoin="round" />
<polyline points="615.3,181.28 615.9,165.23 616.5,178.07" fill="none" stroke="#f00" stroke-width="1.2" stroke-linejoin="round" />
<polyline points="624.4,181.28 625,166.04 625.6,178.07" fill="none" stroke="#f00" stroke-width="1.2" stroke-linejoin="round" />
<polyline points="642.7,181.28 643.3,167.64 643.9,178.07" fill="none" stroke="#f00" stroke-width="1.2" stroke-linejoin="round" />
<polyline points="656.1,181.28 656.7,162.02 657.3,178.07" fill="none" stroke="#f00" stroke-width="1.2" stroke-linejoin="round" />
<ellipse cx="572.8" cy="46.7" rx="6.2" ry="4.4" fill="none" stroke="#000" stroke-width="1.3"/>
<line x1="566.6" y1="46.7" x2="558.26" y2="46.7" stroke="#000" stroke-width="1.3" />
<polygon points="553.3,46.7 560.3,44.05 558.76,46.7 560.3,49.35" fill="#000" stroke="#000" stroke-width="0.3" stroke-linejoin="round"/>
<ellipse cx="594.5" cy="83.1" rx="6.2" ry="3.9" fill="none" stroke="#f00" stroke-width="1.3"/>
<line x1="600.7" y1="83.1" x2="610.44" y2="83.1" stroke="#f00" stroke-width="1.3" />
<polygon points="615.4,83.1 608.4,85.75 609.94,83.1 608.4,80.45" fill="#f00" stroke="#f00" stroke-width="0.3" stroke-linejoin="round"/>
<line x1="554.2" y1="94.6" x2="554.2" y2="82.64" stroke="#f00" stroke-width="1.3" />
<polygon points="554.2,76.9 556.9,84.9 554.2,83.14 551.5,84.9" fill="#f00" stroke="#f00" stroke-width="0.3" stroke-linejoin="round"/>
<line x1="601.2" y1="97.2" x2="601.2" y2="109.38" stroke="#f00" stroke-width="1.3" />
<polygon points="601.2,115.9 598.2,106.9 601.2,108.88 604.2,106.9" fill="#f00" stroke="#f00" stroke-width="0.3" stroke-linejoin="round"/>
<line x1="658.5" y1="8" x2="658.5" y2="186.6" stroke="#f00" stroke-width="1.5" />
<line x1="658.5" y1="170.05" x2="655.5" y2="170.05" stroke="#f00" stroke-width="1.1" />
<line x1="658.5" y1="154" x2="653.5" y2="154" stroke="#f00" stroke-width="1.1" />
<line x1="658.5" y1="137.95" x2="655.5" y2="137.95" stroke="#f00" stroke-width="1.1" />
<line x1="658.5" y1="121.9" x2="653.5" y2="121.9" stroke="#f00" stroke-width="1.1" />
<line x1="658.5" y1="105.85" x2="655.5" y2="105.85" stroke="#f00" stroke-width="1.1" />
<line x1="658.5" y1="89.8" x2="653.5" y2="89.8" stroke="#f00" stroke-width="1.1" />
<line x1="658.5" y1="73.75" x2="655.5" y2="73.75" stroke="#f00" stroke-width="1.1" />
<line x1="658.5" y1="57.7" x2="653.5" y2="57.7" stroke="#f00" stroke-width="1.1" />
<line x1="658.5" y1="41.65" x2="655.5" y2="41.65" stroke="#f00" stroke-width="1.1" />
<line x1="658.5" y1="25.6" x2="653.5" y2="25.6" stroke="#f00" stroke-width="1.1" />
<text transform="translate(507.4 188.4) scale(0.91 1)" font-size="12.1" text-anchor="end" fill="#000" stroke="#000" stroke-width="0.22">-0.4</text>
<text transform="translate(507.4 154.46) scale(0.91 1)" font-size="12.1" text-anchor="end" fill="#000" stroke="#000" stroke-width="0.22">0.0</text>
<text transform="translate(507.4 120.52) scale(0.91 1)" font-size="12.1" text-anchor="end" fill="#000" stroke="#000" stroke-width="0.22">0.4</text>
<text transform="translate(507.4 86.58) scale(0.91 1)" font-size="12.1" text-anchor="end" fill="#000" stroke="#000" stroke-width="0.22">0.8</text>
<text transform="translate(507.4 52.64) scale(0.91 1)" font-size="12.1" text-anchor="end" fill="#000" stroke="#000" stroke-width="0.22">1.2</text>
<text transform="translate(507.4 18.7) scale(0.91 1)" font-size="12.1" text-anchor="end" fill="#000" stroke="#000" stroke-width="0.22">1.6</text>
<text transform="translate(510.6 200.2) scale(0.91 1)" font-size="12.1" text-anchor="middle" fill="#000" stroke="#000" stroke-width="0.22">-1.0</text>
<text transform="translate(535.25 200.2) scale(0.91 1)" font-size="12.1" text-anchor="middle" fill="#000" stroke="#000" stroke-width="0.22">-0.5</text>
<text transform="translate(559.9 200.2) scale(0.91 1)" font-size="12.1" text-anchor="middle" fill="#000" stroke="#000" stroke-width="0.22">0.0</text>
<text transform="translate(584.55 200.2) scale(0.91 1)" font-size="12.1" text-anchor="middle" fill="#000" stroke="#000" stroke-width="0.22">0.5</text>
<text transform="translate(609.2 200.2) scale(0.91 1)" font-size="12.1" text-anchor="middle" fill="#000" stroke="#000" stroke-width="0.22">1.0</text>
<text transform="translate(633.85 200.2) scale(0.91 1)" font-size="12.1" text-anchor="middle" fill="#000" stroke="#000" stroke-width="0.22">1.5</text>
<text transform="translate(658.5 200.2) scale(0.91 1)" font-size="12.1" text-anchor="middle" fill="#000" stroke="#000" stroke-width="0.22">2.0</text>
<text transform="translate(661 188.4) scale(0.91 1)" font-size="12.1" text-anchor="start" fill="#f00" stroke="#f00" stroke-width="0.22">0</text>
<text transform="translate(661 156.3) scale(0.91 1)" font-size="12.1" text-anchor="start" fill="#f00" stroke="#f00" stroke-width="0.22">2</text>
<text transform="translate(661 124.2) scale(0.91 1)" font-size="12.1" text-anchor="start" fill="#f00" stroke="#f00" stroke-width="0.22">4</text>
<text transform="translate(661 92.1) scale(0.91 1)" font-size="12.1" text-anchor="start" fill="#f00" stroke="#f00" stroke-width="0.22">6</text>
<text transform="translate(661 60) scale(0.91 1)" font-size="12.1" text-anchor="start" fill="#f00" stroke="#f00" stroke-width="0.22">8</text>
<text transform="translate(661 27.9) scale(0.91 1)" font-size="12.1" text-anchor="start" fill="#f00" stroke="#f00" stroke-width="0.22">10</text>
<text transform="translate(561.2 223.6) scale(0.83 1)" font-size="14.6" text-anchor="start" fill="#000" stroke="#000" stroke-width="0.22">V<tspan font-size="9.0" dy="4.8">gs_eff</tspan><tspan dy="-4.8" dx="1"> (V)</tspan></text>
<text transform="translate(486.2 114.5) rotate(-90) scale(0.87 1)" font-size="14.6" text-anchor="start" fill="#000" stroke="#000" stroke-width="0.22">V<tspan font-size="9.0" dy="4.8">int</tspan><tspan dy="-4.8" dx="1"> (V)</tspan></text>
<text transform="translate(678.9 139) rotate(-90) scale(0.87 1)" font-size="14.6" text-anchor="start" fill="#f00" stroke="#f00" stroke-width="0.22">dV<tspan font-size="9.0" dy="4.8">int</tspan><tspan dy="-4.8">/dV</tspan><tspan font-size="9.0" dy="4.8">g</tspan><tspan dy="-4.8" dx="1"> (V/V)</tspan></text>
<text transform="translate(461.5 231) scale(0.93 1)" font-size="14.8" text-anchor="start" fill="#000" stroke="#000" stroke-width="0.15">(c)</text>
<ellipse cx="77.85" cy="306.55" rx="30.6" ry="6.8" fill="#c0c0c0" stroke="none" stroke-width="0" transform="rotate(71.8 77.85 306.55)"/>
<ellipse cx="128.4" cy="351.2" rx="46.6" ry="12.2" fill="#c0c0c0" stroke="none" stroke-width="0" transform="rotate(62.2 128.4 351.2)"/>
<ellipse cx="140.5" cy="299.5" rx="20.5" ry="4.8" fill="#c0c0c0" stroke="none" stroke-width="0" transform="rotate(62.8 140.5 299.5)"/>
<rect x="62.2" y="247.7" width="50.5" height="17.3" fill="#fff" stroke="#000" stroke-width="1.1"/>
<text transform="translate(63.3 259.6)" font-size="10" text-anchor="start" fill="#000" stroke="#000" stroke-width="0.22">C α dP/dE</text>
<polyline points="68.6,277.8 69.5,276.8 70.2,276 71.5,277 72.5,275.8 74.3,275.4 75.5,276.2 77.2,274.3 78.5,275.5 80.1,276 81.2,274.5 81.9,273.7 84,273.5 86,272.5 87.5,272.3 88.9,270.2 92,270.2 95.9,269.6 100,269.3 104,268.4 108,268 113.4,266.7 118,266.3 122.7,265.7 126,265.5 129.7,264.9 135,264.3 140,264 145,263.8 149.9,263 160,262.8 169.9,262.4 179.9,262.6 201.2,263" fill="none" stroke="#f00" stroke-width="1.3" stroke-linejoin="round" />
<polyline points="201.2,263 185.7,263.4 179.9,264.3 174,265.7 168.2,267.6 163.5,269 160,270.8 155,271.8 153.6,272.5 153,274.9 148.4,275.4 142.5,277.2 136.7,279 133.2,280.1 132.6,281.9 134,287.9 139,295.9 140,298.9 139,303.9 141,309.9 142,315.9 136,315.9 128,313.9 120,314.9 113.9,311.4 108.5,307.9 107.6,305.2 108.5,313.2 113.9,322.1 121,334.5 124.5,340 151.2,390.4 152.6,394.4 149.9,399.7 149.9,403.2 110,403.2 84.9,403.3 49.3,403.4" fill="none" stroke="#f00" stroke-width="1.3" stroke-linejoin="round" />
<polyline points="68.8,277.5 71.6,285.8 74.9,296.6 77,303 79.1,311.5 82.4,321.5 84.9,333.1 85.07,334.7 85.24,336.3 85.31,337.9 85.52,339.5 85.1,341.1 85.17,342.7 83.72,344.3 84.18,345.9 84.72,347.5 84.18,349.1 84.36,350.7 83.04,352.3 83.31,353.9 82.82,355.5 83.14,357.1 83.08,358.7 82.24,360.3 82.64,361.9 82.84,363.5 83.84,365.1 83.74,366.7 83,368.3 84.01,369.9 83.2,371.5 83.98,373.1 83.41,374.7 83.34,376.3 84.67,377.9 83.86,379.5 83.92,381.1 85.03,382.7 84.91,384.3 84.12,385.9 85.1,387.5 84.54,389.1 84.77,390.7 84.17,392.3 85.26,393.9 84.97,395.5 85.42,397.1 85.37,398.7 84.9,400.8 99.9,402 130,403.2" fill="none" stroke="#f00" stroke-width="1.3" stroke-linejoin="round" />
<polyline points="49.3,401.4 70,401.2 84.9,401.4" fill="none" stroke="#f00" stroke-width="1.3" stroke-linejoin="round" />
<line x1="68" y1="315.7" x2="64.22" y2="302.66" stroke="#f00" stroke-width="1.4" />
<polygon points="62.4,296.4 68.51,304 64.36,303.14 61.31,306.09" fill="#f00" stroke="#f00" stroke-width="0.3" stroke-linejoin="round"/>
<line x1="147" y1="289.9" x2="152.35" y2="301.39" stroke="#f00" stroke-width="1.4" />
<polygon points="155.1,307.3 147.9,300.72 152.14,300.94 154.7,297.56" fill="#f00" stroke="#f00" stroke-width="0.3" stroke-linejoin="round"/>
<text transform="translate(142 332.8)" font-size="10" text-anchor="start" fill="#000" stroke="#000" stroke-width="0.22">NC regions</text>
<rect x="49.0" y="243.5" width="152.5" height="162" fill="none" stroke="#000" stroke-width="1.1"/>
<line x1="74.42" y1="405.5" x2="74.42" y2="402.5" stroke="#000" stroke-width="1.1" />
<line x1="99.83" y1="405.5" x2="99.83" y2="400" stroke="#000" stroke-width="1.1" />
<line x1="125.25" y1="405.5" x2="125.25" y2="402.5" stroke="#000" stroke-width="1.1" />
<line x1="150.67" y1="405.5" x2="150.67" y2="400" stroke="#000" stroke-width="1.1" />
<line x1="176.08" y1="405.5" x2="176.08" y2="402.5" stroke="#000" stroke-width="1.1" />
<line x1="49" y1="382.36" x2="54.5" y2="382.36" stroke="#000" stroke-width="1.1" />
<line x1="49" y1="359.21" x2="52" y2="359.21" stroke="#000" stroke-width="1.1" />
<line x1="49" y1="336.07" x2="54.5" y2="336.07" stroke="#000" stroke-width="1.1" />
<line x1="49" y1="312.93" x2="52" y2="312.93" stroke="#000" stroke-width="1.1" />
<line x1="49" y1="289.79" x2="54.5" y2="289.79" stroke="#000" stroke-width="1.1" />
<line x1="49" y1="266.64" x2="52" y2="266.64" stroke="#000" stroke-width="1.1" />
<text transform="translate(43.6 385.06) scale(0.91 1)" font-size="12.1" text-anchor="end" fill="#000" stroke="#000" stroke-width="0.22">0</text>
<text transform="translate(43.6 338.77) scale(0.91 1)" font-size="12.1" text-anchor="end" fill="#000" stroke="#000" stroke-width="0.22">2</text>
<text transform="translate(43.6 292.49) scale(0.91 1)" font-size="12.1" text-anchor="end" fill="#000" stroke="#000" stroke-width="0.22">4</text>
<text transform="translate(43.6 246.2) scale(0.91 1)" font-size="12.1" text-anchor="end" fill="#000" stroke="#000" stroke-width="0.22">6</text>
<text transform="translate(49 417.8) scale(0.91 1)" font-size="12.1" text-anchor="middle" fill="#000" stroke="#000" stroke-width="0.22">0</text>
<text transform="translate(99.83 417.8) scale(0.91 1)" font-size="12.1" text-anchor="middle" fill="#000" stroke="#000" stroke-width="0.22">1</text>
<text transform="translate(150.67 417.8) scale(0.91 1)" font-size="12.1" text-anchor="middle" fill="#000" stroke="#000" stroke-width="0.22">2</text>
<text transform="translate(201.5 417.8) scale(0.91 1)" font-size="12.1" text-anchor="middle" fill="#000" stroke="#000" stroke-width="0.22">3</text>
<text transform="translate(105 439.7) scale(0.87 1)" font-size="14.6" text-anchor="start" fill="#000" stroke="#000" stroke-width="0.22">V<tspan font-size="9.0" dy="4.8">FE</tspan><tspan dy="-4.8" dx="1"> (V)</tspan></text>
<text transform="translate(22 360.5) rotate(-90) scale(0.87 1)" font-size="14.6" text-anchor="start" fill="#000" stroke="#000" stroke-width="0.22">P<tspan font-size="9.0" dy="4.8">FE</tspan><tspan dy="-4.8" dx="1"> (μC/cm</tspan><tspan font-size="9.0" dy="-5.28">2</tspan><tspan dy="5.28">)</tspan></text>
<text transform="translate(-1 448.2) scale(0.93 1)" font-size="14.8" text-anchor="start" fill="#000" stroke="#000" stroke-width="0.15">(d)</text>
<line x1="272" y1="243" x2="415.7" y2="243" stroke="#000" stroke-width="1" />
<line x1="272" y1="243" x2="272" y2="405.8" stroke="#000" stroke-width="1" />
<line x1="272" y1="405.8" x2="415.7" y2="405.8" stroke="#000" stroke-width="1.1" />
<line x1="286.37" y1="405.8" x2="286.37" y2="400.3" stroke="#000" stroke-width="1.1" />
<line x1="300.74" y1="405.8" x2="300.74" y2="402.8" stroke="#000" stroke-width="1.1" />
<line x1="315.11" y1="405.8" x2="315.11" y2="400.3" stroke="#000" stroke-width="1.1" />
<line x1="329.48" y1="405.8" x2="329.48" y2="402.8" stroke="#000" stroke-width="1.1" />
<line x1="343.85" y1="405.8" x2="343.85" y2="400.3" stroke="#000" stroke-width="1.1" />
<line x1="358.22" y1="405.8" x2="358.22" y2="402.8" stroke="#000" stroke-width="1.1" />
<line x1="372.59" y1="405.8" x2="372.59" y2="400.3" stroke="#000" stroke-width="1.1" />
<line x1="386.96" y1="405.8" x2="386.96" y2="402.8" stroke="#000" stroke-width="1.1" />
<line x1="401.33" y1="405.8" x2="401.33" y2="400.3" stroke="#000" stroke-width="1.1" />
<line x1="272" y1="385.45" x2="275" y2="385.45" stroke="#000" stroke-width="1.1" />
<line x1="272" y1="365.1" x2="277.5" y2="365.1" stroke="#000" stroke-width="1.1" />
<line x1="272" y1="344.75" x2="275" y2="344.75" stroke="#000" stroke-width="1.1" />
<line x1="272" y1="324.4" x2="277.5" y2="324.4" stroke="#000" stroke-width="1.1" />
<line x1="272" y1="304.05" x2="275" y2="304.05" stroke="#000" stroke-width="1.1" />
<line x1="272" y1="283.7" x2="277.5" y2="283.7" stroke="#000" stroke-width="1.1" />
<line x1="272" y1="263.35" x2="275" y2="263.35" stroke="#000" stroke-width="1.1" />
<path d="M272.2,389.8 C272.2,389.8 278.13,387.52 281.1,386.4 C284.06,385.28 287.15,384.47 290,383.1 C292.88,381.71 295.59,379.98 298.3,378.1 C301.13,376.13 304.07,373.89 306.6,371.5 C309.06,369.18 311.33,366.58 313.3,364 C315.16,361.57 316.7,359.11 318.2,356.5 C319.73,353.84 321.14,351 322.4,348.2 C323.63,345.46 324.74,342.61 325.7,339.9 C326.59,337.38 327.31,334.98 328,332.5 C328.68,330.04 329.17,327.69 329.8,325.1 C330.5,322.22 331.25,319.08 332,316 C332.78,312.82 333.53,309.73 334.4,306.3 C335.38,302.42 336.52,297.89 337.6,293.9 C338.62,290.14 339.7,286.76 340.7,283 C341.77,279.01 342.63,274.22 343.8,270.6 C344.75,267.66 345.71,264.78 346.9,262.8 C347.75,261.38 349.7,259.5 349.7,259.5" fill="none" stroke="#000" stroke-width="1.3" stroke-linejoin="round" />
<polyline points="349.7,259.5 350.7,256.6 351.3,260.6 352,257.3 352.7,255.6 353.3,257.3 354.3,256.3 355.7,256.6 356.7,254 358,255.3 359,257.6 360.3,254 362.3,254.3 363.5,255.5 365,254.3 366.3,257.3 367.6,254.6 369,255.3 370.3,257.6 371.6,255 373,256 374.3,258 375.6,256.3 377,261.3 378,256.6 379.3,254.3 380,257.3 381,263.3 381.6,253.3 382.6,251 383.6,252 384.6,248" fill="none" stroke="#000" stroke-width="1.3" stroke-linejoin="round" />
<polyline points="272,405.6 290,404.8 300,404.2 310,403.2 313.8,402.7 317.3,401.4 318.5,399 319,394.8 319.6,399.5 320.8,401.4 325,400 330,398.3 335,396 337,394 338,386 339,392 341,391 343,389 344.4,317.6 345,380 346,386 347.9,255.3 348.6,380 349.4,386 351,384 353,380 353.8,326.4 355,372 355.5,352 356,358 356.5,346 357,368 357.5,350 358,348 358.5,362 359,370 359.5,350 360,352 360.5,366 361,374 361.5,352 362,348 362.5,360 363,404 364,405.6" fill="none" stroke="#f00" stroke-width="1.2" stroke-linejoin="round" />
<polyline points="272,405.6 340,405.6 347,405.4 350,402 351,396 352.6,388 354,384 355,389 356,392 357,397 358.6,400 360,402 362,405 364,405 366,402 366.2,395.6 368,393 369.8,388.5 370.6,383.2 372,387.6 373.3,391.2 375.1,385.9 376.8,382.3 377.7,385 379.1,376.1 380.4,380.5 381.3,377.9 383,357.5 384.5,373.4 386.2,332.7 387.5,366.3 388.7,381.4 389.8,397.4 391.6,377.9 392.8,405.6 415.7,405.6" fill="none" stroke="#f00" stroke-width="1.2" stroke-linejoin="round" />
<ellipse cx="334.2" cy="297.6" rx="7.7" ry="5.5" fill="none" stroke="#000" stroke-width="1.3"/>
<line x1="326.4" y1="297.5" x2="321.54" y2="297.45" stroke="#000" stroke-width="1.3" />
<polygon points="315.8,297.4 323.83,294.08 322.04,297.46 323.77,300.88" fill="#000" stroke="#000" stroke-width="0.3" stroke-linejoin="round"/>
<ellipse cx="350" cy="312.6" rx="7.6" ry="5.3" fill="none" stroke="#f00" stroke-width="1.3"/>
<line x1="357.6" y1="312.8" x2="367.26" y2="312.8" stroke="#f00" stroke-width="1.3" />
<polygon points="373,312.8 365,316.3 366.76,312.8 365,309.3" fill="#f00" stroke="#f00" stroke-width="0.3" stroke-linejoin="round"/>
<text transform="translate(282 286.2)" font-size="9.45" text-anchor="start" fill="#000" stroke="#000" stroke-width="0.22">Baseline FET</text>
<text transform="translate(354.6 303.6)" font-size="9.7" text-anchor="start" fill="#f00">NC-FET</text>
<line x1="415.7" y1="243" x2="415.7" y2="405.8" stroke="#f00" stroke-width="1.5" />
<line x1="415.7" y1="385.45" x2="412.7" y2="385.45" stroke="#f00" stroke-width="1.1" />
<line x1="415.7" y1="365.1" x2="410.2" y2="365.1" stroke="#f00" stroke-width="1.1" />
<line x1="415.7" y1="344.75" x2="412.7" y2="344.75" stroke="#f00" stroke-width="1.1" />
<line x1="415.7" y1="324.4" x2="410.2" y2="324.4" stroke="#f00" stroke-width="1.1" />
<line x1="415.7" y1="304.05" x2="412.7" y2="304.05" stroke="#f00" stroke-width="1.1" />
<line x1="415.7" y1="283.7" x2="410.2" y2="283.7" stroke="#f00" stroke-width="1.1" />
<line x1="415.7" y1="263.35" x2="412.7" y2="263.35" stroke="#f00" stroke-width="1.1" />
<text transform="translate(269.2 409) scale(0.91 1)" font-size="12.1" text-anchor="end" fill="#000" stroke="#000" stroke-width="0.22">0</text>
<text transform="translate(418.2 409) scale(0.91 1)" font-size="12.1" text-anchor="start" fill="#f00" stroke="#f00" stroke-width="0.22">0</text>
<text transform="translate(269.2 368.3) scale(0.91 1)" font-size="12.1" text-anchor="end" fill="#000" stroke="#000" stroke-width="0.22">10</text>
<text transform="translate(418.2 368.3) scale(0.91 1)" font-size="12.1" text-anchor="start" fill="#f00" stroke="#f00" stroke-width="0.22">100</text>
<text transform="translate(269.2 327.6) scale(0.91 1)" font-size="12.1" text-anchor="end" fill="#000" stroke="#000" stroke-width="0.22">20</text>
<text transform="translate(418.2 327.6) scale(0.91 1)" font-size="12.1" text-anchor="start" fill="#f00" stroke="#f00" stroke-width="0.22">200</text>
<text transform="translate(269.2 286.9) scale(0.91 1)" font-size="12.1" text-anchor="end" fill="#000" stroke="#000" stroke-width="0.22">30</text>
<text transform="translate(418.2 286.9) scale(0.91 1)" font-size="12.1" text-anchor="start" fill="#f00" stroke="#f00" stroke-width="0.22">300</text>
<text transform="translate(269.2 246.2) scale(0.91 1)" font-size="12.1" text-anchor="end" fill="#000" stroke="#000" stroke-width="0.22">40</text>
<text transform="translate(418.2 246.2) scale(0.91 1)" font-size="12.1" text-anchor="start" fill="#f00" stroke="#f00" stroke-width="0.22">400</text>
<text transform="translate(286.37 421.2) scale(0.91 1)" font-size="12.1" text-anchor="middle" fill="#000" stroke="#000" stroke-width="0.22">-0.4</text>
<text transform="translate(315.11 421.2) scale(0.91 1)" font-size="12.1" text-anchor="middle" fill="#000" stroke="#000" stroke-width="0.22">-0.2</text>
<text transform="translate(343.85 421.2) scale(0.91 1)" font-size="12.1" text-anchor="middle" fill="#000" stroke="#000" stroke-width="0.22">0.0</text>
<text transform="translate(372.59 421.2) scale(0.91 1)" font-size="12.1" text-anchor="middle" fill="#000" stroke="#000" stroke-width="0.22">0.2</text>
<text transform="translate(401.33 421.2) scale(0.91 1)" font-size="12.1" text-anchor="middle" fill="#000" stroke="#000" stroke-width="0.22">0.4</text>
<text transform="translate(320.4 440.8) scale(0.83 1)" font-size="14.6" text-anchor="start" fill="#000" stroke="#000" stroke-width="0.22">V<tspan font-size="9.0" dy="4.8">gs_eff</tspan><tspan dy="-4.8" dx="1"> (V)</tspan></text>
<text transform="translate(251.3 353.3) rotate(-90) scale(0.82 1)" font-size="14.6" text-anchor="start" fill="#000" stroke="#000" stroke-width="0.22">g<tspan font-size="9.0" dy="4.8">m</tspan><tspan dy="-4.8">/I</tspan><tspan font-size="9.0" dy="4.8">d</tspan><tspan dy="-4.8" dx="1"> (V</tspan><tspan font-size="9.0" dy="-5.28">-1</tspan><tspan dy="5.28">)</tspan></text>
<text transform="translate(447.3 350.5) rotate(-90) scale(0.82 1)" font-size="14.6" text-anchor="start" fill="#f00" stroke="#f00" stroke-width="0.22">g<tspan font-size="9.0" dy="4.8">m</tspan><tspan dy="-4.8">/I</tspan><tspan font-size="9.0" dy="4.8">d</tspan><tspan dy="-4.8" dx="1"> (V</tspan><tspan font-size="9.0" dy="-5.28">-1</tspan><tspan dy="5.28">)</tspan></text>
<text transform="translate(231 448.2) scale(0.93 1)" font-size="14.8" text-anchor="start" fill="#000" stroke="#000" stroke-width="0.15">(e)</text>
<rect x="608" y="280.8" width="13.2" height="87.3" fill="#c0c0c0" />
<path d="M511.2,262.3 C511.2,262.3 549.86,262.3 560,262.3 C564.59,262.3 567.57,262.26 570,262.3 C571.4,262.32 572.12,262.33 573.3,262.4 C574.66,262.48 576.19,262.43 577.7,262.8 C579.42,263.22 581.15,264.04 583,265 C585.24,266.16 587.76,267.89 590.1,269.5 C592.5,271.15 595.09,272.84 597.2,274.8 C599.24,276.69 600.85,278.83 602.6,281 C604.42,283.25 606.29,285.6 607.9,288.1 C609.53,290.63 610.98,293.33 612.3,296.1 C613.65,298.93 614.86,301.93 615.9,304.9 C616.92,307.83 617.78,310.67 618.5,313.8 C619.28,317.18 619.57,321.54 620.3,324.5 C620.83,326.66 621.5,327.57 622.1,330 C623.21,334.54 624.21,343.69 625.4,349.9 C626.46,355.4 627.8,361.33 628.8,365.4 C629.46,368.07 630.14,370.13 630.6,372 C630.94,373.38 631.4,375.6 631.4,375.6" fill="none" stroke="#f00" stroke-width="1.4" stroke-linejoin="round" />
<line x1="631.4" y1="375.6" x2="658.9" y2="375.6" stroke="#f00" stroke-width="1.4" />
<path d="M511.2,263.4 C511.2,263.4 522.62,264.13 527.7,264.8 C532.12,265.38 536.35,266.22 540,267 C542.96,267.63 545.49,268.19 548,269 C550.33,269.75 552.52,270.73 554.6,271.6 C556.5,272.4 558.09,273.1 560,274 C562.21,275.04 564.83,275.99 567.1,277.5 C569.58,279.15 572.17,281.26 574.2,283.7 C576.33,286.26 577.79,289.47 579.5,292.6 C581.33,295.95 583.26,299.8 584.8,303.2 C586.18,306.24 587.36,309.02 588.4,312 C589.43,314.96 590.02,318.13 591,321 C591.93,323.72 593.07,325.59 594.1,328.8 C595.67,333.69 597.45,341.96 598.8,347.7 C599.92,352.49 600.93,356.9 601.7,360.9 C602.34,364.21 602.88,367.33 603.2,370 C603.45,372.09 603.6,375.6 603.6,375.6" fill="none" stroke="#f00" stroke-width="1.4" stroke-linejoin="round" />
<line x1="603.6" y1="375.6" x2="631.4" y2="375.6" stroke="#f00" stroke-width="1.4" />
<path d="M511.2,272.6 C511.2,272.6 532.23,272.57 540,272.6 C545.28,272.62 549.62,272.52 553.3,272.7 C555.92,272.83 557.84,272.5 560,273.3 C562.46,274.22 564.81,276.45 567.1,278.4 C569.55,280.48 572.14,282.87 574.2,285.5 C576.28,288.16 577.97,291.49 579.5,294.3 C580.85,296.76 581.87,298.88 583,301.4 C584.24,304.18 585.57,307.16 586.6,310.3 C587.7,313.67 588.46,317.72 589.3,321 C590.01,323.81 590.55,325.46 591.3,328.8 C592.62,334.68 594.7,345.65 596,353.3 C597.14,360 597.75,366.48 598.8,372.2 C599.68,377.01 600.33,382.48 601.7,385.4 C602.5,387.1 603.35,388.44 604.5,389 C605.5,389.49 608,389 608,389" fill="none" stroke="#000" stroke-width="1.4" stroke-linejoin="round" />
<line x1="608" y1="389" x2="658.9" y2="388.7" stroke="#000" stroke-width="1.4" />
<path d="M511.2,272.6 C511.2,272.6 574.42,272.72 590,272.8 C596.57,272.83 600.78,272.85 604,272.9 C605.7,272.93 606.78,272.63 607.9,273 C608.91,273.33 609.86,273.73 610.5,274.8 C611.69,276.77 611.44,281.48 611.8,285.5 C612.26,290.66 612.42,297.3 612.8,303.2 C613.18,309.1 613.63,315.18 614.1,320.9 C614.54,326.29 614.98,330.79 615.5,336.6 C616.15,343.84 616.54,354.13 617.7,361 C618.56,366.14 619.85,370.09 621,374.3 C622.06,378.15 623.12,382.74 624.3,385.3 C625,386.82 625.5,388.21 626.5,388.7 C627.43,389.16 630,388.4 630,388.4" fill="none" stroke="#000" stroke-width="1.4" stroke-linejoin="round" />
<polyline points="630,388.4 633,389 636,388 640,388.6 644,387.8 648,388.5 652,387.6 655,388.3 658.9,388.7" fill="none" stroke="#000" stroke-width="1.4" stroke-linejoin="round" />
<line x1="587" y1="340.2" x2="586.66" y2="332.12" stroke="#000" stroke-width="1.5" />
<polygon points="586.4,326 590.16,334.35 586.68,332.62 583.36,334.64" fill="#000" stroke="#000" stroke-width="0.3" stroke-linejoin="round"/>
<line x1="632.3" y1="350.5" x2="632.6" y2="360.08" stroke="#000" stroke-width="1.5" />
<polygon points="632.8,366.6 629.12,357.71 632.58,359.58 635.92,357.5" fill="#000" stroke="#000" stroke-width="0.3" stroke-linejoin="round"/>
<text transform="translate(528.9 257.5)" font-size="10.2" text-anchor="start" fill="#f00" stroke="#f00" stroke-width="0.22">V<tspan font-size="6.6" dy="3">DS</tspan><tspan dy="-3">=-0.9V</tspan></text>
<text transform="translate(548.2 387.8)" font-size="10.2" text-anchor="start" fill="#000" stroke="#000" stroke-width="0.22">V<tspan font-size="6.6" dy="3">DS</tspan><tspan dy="-3">=-0.5V</tspan></text>
<text transform="translate(638.5 346.8) rotate(-90)" font-size="10.2" text-anchor="start" fill="#000" stroke="#000" stroke-width="0.22">SS=15mV/dec</text>
<rect x="511.2" y="245.5" width="147.7" height="157.7" fill="none" stroke="#000" stroke-width="1.1"/>
<line x1="529.66" y1="403.2" x2="529.66" y2="400.2" stroke="#000" stroke-width="1.1" />
<line x1="548.12" y1="403.2" x2="548.12" y2="396.9" stroke="#000" stroke-width="1.1" />
<line x1="566.59" y1="403.2" x2="566.59" y2="400.2" stroke="#000" stroke-width="1.1" />
<line x1="585.05" y1="403.2" x2="585.05" y2="396.9" stroke="#000" stroke-width="1.1" />
<line x1="603.51" y1="403.2" x2="603.51" y2="400.2" stroke="#000" stroke-width="1.1" />
<line x1="621.98" y1="403.2" x2="621.98" y2="396.9" stroke="#000" stroke-width="1.1" />
<line x1="640.44" y1="403.2" x2="640.44" y2="400.2" stroke="#000" stroke-width="1.1" />
<line x1="511.2" y1="398.45" x2="514.4" y2="398.45" stroke="#000" stroke-width="1" />
<line x1="511.2" y1="395.68" x2="514.4" y2="395.68" stroke="#000" stroke-width="1" />
<line x1="511.2" y1="393.71" x2="514.4" y2="393.71" stroke="#000" stroke-width="1" />
<line x1="511.2" y1="392.18" x2="514.4" y2="392.18" stroke="#000" stroke-width="1" />
<line x1="511.2" y1="390.93" x2="514.4" y2="390.93" stroke="#000" stroke-width="1" />
<line x1="511.2" y1="389.87" x2="514.4" y2="389.87" stroke="#000" stroke-width="1" />
<line x1="511.2" y1="388.96" x2="514.4" y2="388.96" stroke="#000" stroke-width="1" />
<line x1="511.2" y1="388.15" x2="514.4" y2="388.15" stroke="#000" stroke-width="1" />
<line x1="511.2" y1="387.43" x2="516.7" y2="387.43" stroke="#000" stroke-width="1.1" />
<line x1="511.2" y1="382.68" x2="514.4" y2="382.68" stroke="#000" stroke-width="1" />
<line x1="511.2" y1="379.91" x2="514.4" y2="379.91" stroke="#000" stroke-width="1" />
<line x1="511.2" y1="377.94" x2="514.4" y2="377.94" stroke="#000" stroke-width="1" />
<line x1="511.2" y1="376.41" x2="514.4" y2="376.41" stroke="#000" stroke-width="1" />
<line x1="511.2" y1="375.16" x2="514.4" y2="375.16" stroke="#000" stroke-width="1" />
<line x1="511.2" y1="374.1" x2="514.4" y2="374.1" stroke="#000" stroke-width="1" />
<line x1="511.2" y1="373.19" x2="514.4" y2="373.19" stroke="#000" stroke-width="1" />
<line x1="511.2" y1="372.38" x2="514.4" y2="372.38" stroke="#000" stroke-width="1" />
<line x1="511.2" y1="371.66" x2="516.7" y2="371.66" stroke="#000" stroke-width="1.1" />
<line x1="511.2" y1="366.91" x2="514.4" y2="366.91" stroke="#000" stroke-width="1" />
<line x1="511.2" y1="364.14" x2="514.4" y2="364.14" stroke="#000" stroke-width="1" />
<line x1="511.2" y1="362.17" x2="514.4" y2="362.17" stroke="#000" stroke-width="1" />
<line x1="511.2" y1="360.64" x2="514.4" y2="360.64" stroke="#000" stroke-width="1" />
<line x1="511.2" y1="359.39" x2="514.4" y2="359.39" stroke="#000" stroke-width="1" />
<line x1="511.2" y1="358.33" x2="514.4" y2="358.33" stroke="#000" stroke-width="1" />
<line x1="511.2" y1="357.42" x2="514.4" y2="357.42" stroke="#000" stroke-width="1" />
<line x1="511.2" y1="356.61" x2="514.4" y2="356.61" stroke="#000" stroke-width="1" />
<line x1="511.2" y1="355.89" x2="516.7" y2="355.89" stroke="#000" stroke-width="1.1" />
<line x1="511.2" y1="351.14" x2="514.4" y2="351.14" stroke="#000" stroke-width="1" />
<line x1="511.2" y1="348.37" x2="514.4" y2="348.37" stroke="#000" stroke-width="1" />
<line x1="511.2" y1="346.4" x2="514.4" y2="346.4" stroke="#000" stroke-width="1" />
<line x1="511.2" y1="344.87" x2="514.4" y2="344.87" stroke="#000" stroke-width="1" />
<line x1="511.2" y1="343.62" x2="514.4" y2="343.62" stroke="#000" stroke-width="1" />
<line x1="511.2" y1="342.56" x2="514.4" y2="342.56" stroke="#000" stroke-width="1" />
<line x1="511.2" y1="341.65" x2="514.4" y2="341.65" stroke="#000" stroke-width="1" />
<line x1="511.2" y1="340.84" x2="514.4" y2="340.84" stroke="#000" stroke-width="1" />
<line x1="511.2" y1="340.12" x2="516.7" y2="340.12" stroke="#000" stroke-width="1.1" />
<line x1="511.2" y1="335.37" x2="514.4" y2="335.37" stroke="#000" stroke-width="1" />
<line x1="511.2" y1="332.6" x2="514.4" y2="332.6" stroke="#000" stroke-width="1" />
<line x1="511.2" y1="330.63" x2="514.4" y2="330.63" stroke="#000" stroke-width="1" />
<line x1="511.2" y1="329.1" x2="514.4" y2="329.1" stroke="#000" stroke-width="1" />
<line x1="511.2" y1="327.85" x2="514.4" y2="327.85" stroke="#000" stroke-width="1" />
<line x1="511.2" y1="326.79" x2="514.4" y2="326.79" stroke="#000" stroke-width="1" />
<line x1="511.2" y1="325.88" x2="514.4" y2="325.88" stroke="#000" stroke-width="1" />
<line x1="511.2" y1="325.07" x2="514.4" y2="325.07" stroke="#000" stroke-width="1" />
<line x1="511.2" y1="324.35" x2="516.7" y2="324.35" stroke="#000" stroke-width="1.1" />
<line x1="511.2" y1="319.6" x2="514.4" y2="319.6" stroke="#000" stroke-width="1" />
<line x1="511.2" y1="316.83" x2="514.4" y2="316.83" stroke="#000" stroke-width="1" />
<line x1="511.2" y1="314.86" x2="514.4" y2="314.86" stroke="#000" stroke-width="1" />
<line x1="511.2" y1="313.33" x2="514.4" y2="313.33" stroke="#000" stroke-width="1" />
<line x1="511.2" y1="312.08" x2="514.4" y2="312.08" stroke="#000" stroke-width="1" />
<line x1="511.2" y1="311.02" x2="514.4" y2="311.02" stroke="#000" stroke-width="1" />
<line x1="511.2" y1="310.11" x2="514.4" y2="310.11" stroke="#000" stroke-width="1" />
<line x1="511.2" y1="309.3" x2="514.4" y2="309.3" stroke="#000" stroke-width="1" />
<line x1="511.2" y1="308.58" x2="516.7" y2="308.58" stroke="#000" stroke-width="1.1" />
<line x1="511.2" y1="303.83" x2="514.4" y2="303.83" stroke="#000" stroke-width="1" />
<line x1="511.2" y1="301.06" x2="514.4" y2="301.06" stroke="#000" stroke-width="1" />
<line x1="511.2" y1="299.09" x2="514.4" y2="299.09" stroke="#000" stroke-width="1" />
<line x1="511.2" y1="297.56" x2="514.4" y2="297.56" stroke="#000" stroke-width="1" />
<line x1="511.2" y1="296.31" x2="514.4" y2="296.31" stroke="#000" stroke-width="1" />
<line x1="511.2" y1="295.25" x2="514.4" y2="295.25" stroke="#000" stroke-width="1" />
<line x1="511.2" y1="294.34" x2="514.4" y2="294.34" stroke="#000" stroke-width="1" />
<line x1="511.2" y1="293.53" x2="514.4" y2="293.53" stroke="#000" stroke-width="1" />
<line x1="511.2" y1="292.81" x2="516.7" y2="292.81" stroke="#000" stroke-width="1.1" />
<line x1="511.2" y1="288.06" x2="514.4" y2="288.06" stroke="#000" stroke-width="1" />
<line x1="511.2" y1="285.29" x2="514.4" y2="285.29" stroke="#000" stroke-width="1" />
<line x1="511.2" y1="283.32" x2="514.4" y2="283.32" stroke="#000" stroke-width="1" />
<line x1="511.2" y1="281.79" x2="514.4" y2="281.79" stroke="#000" stroke-width="1" />
<line x1="511.2" y1="280.54" x2="514.4" y2="280.54" stroke="#000" stroke-width="1" />
<line x1="511.2" y1="279.48" x2="514.4" y2="279.48" stroke="#000" stroke-width="1" />
<line x1="511.2" y1="278.57" x2="514.4" y2="278.57" stroke="#000" stroke-width="1" />
<line x1="511.2" y1="277.76" x2="514.4" y2="277.76" stroke="#000" stroke-width="1" />
<line x1="511.2" y1="277.04" x2="516.7" y2="277.04" stroke="#000" stroke-width="1.1" />
<line x1="511.2" y1="272.29" x2="514.4" y2="272.29" stroke="#000" stroke-width="1" />
<line x1="511.2" y1="269.52" x2="514.4" y2="269.52" stroke="#000" stroke-width="1" />
<line x1="511.2" y1="267.55" x2="514.4" y2="267.55" stroke="#000" stroke-width="1" />
<line x1="511.2" y1="266.02" x2="514.4" y2="266.02" stroke="#000" stroke-width="1" />
<line x1="511.2" y1="264.77" x2="514.4" y2="264.77" stroke="#000" stroke-width="1" />
<line x1="511.2" y1="263.71" x2="514.4" y2="263.71" stroke="#000" stroke-width="1" />
<line x1="511.2" y1="262.8" x2="514.4" y2="262.8" stroke="#000" stroke-width="1" />
<line x1="511.2" y1="261.99" x2="514.4" y2="261.99" stroke="#000" stroke-width="1" />
<line x1="511.2" y1="261.27" x2="516.7" y2="261.27" stroke="#000" stroke-width="1.1" />
<line x1="511.2" y1="256.52" x2="514.4" y2="256.52" stroke="#000" stroke-width="1" />
<line x1="511.2" y1="253.75" x2="514.4" y2="253.75" stroke="#000" stroke-width="1" />
<line x1="511.2" y1="251.78" x2="514.4" y2="251.78" stroke="#000" stroke-width="1" />
<line x1="511.2" y1="250.25" x2="514.4" y2="250.25" stroke="#000" stroke-width="1" />
<line x1="511.2" y1="249" x2="514.4" y2="249" stroke="#000" stroke-width="1" />
<line x1="511.2" y1="247.94" x2="514.4" y2="247.94" stroke="#000" stroke-width="1" />
<line x1="511.2" y1="247.03" x2="514.4" y2="247.03" stroke="#000" stroke-width="1" />
<line x1="511.2" y1="246.22" x2="514.4" y2="246.22" stroke="#000" stroke-width="1" />
<text transform="translate(508.2 405.8) scale(0.91 1)" font-size="11.2" text-anchor="end" fill="#000" stroke="#000" stroke-width="0.22">10<tspan font-size="7.8" dy="-5.6">-13</tspan></text>
<text transform="translate(508.2 390.03) scale(0.91 1)" font-size="11.2" text-anchor="end" fill="#000" stroke="#000" stroke-width="0.22">10<tspan font-size="7.8" dy="-5.6">-12</tspan></text>
<text transform="translate(508.2 374.26) scale(0.91 1)" font-size="11.2" text-anchor="end" fill="#000" stroke="#000" stroke-width="0.22">10<tspan font-size="7.8" dy="-5.6">-11</tspan></text>
<text transform="translate(508.2 358.49) scale(0.91 1)" font-size="11.2" text-anchor="end" fill="#000" stroke="#000" stroke-width="0.22">10<tspan font-size="7.8" dy="-5.6">-10</tspan></text>
<text transform="translate(508.2 342.72) scale(0.91 1)" font-size="11.2" text-anchor="end" fill="#000" stroke="#000" stroke-width="0.22">10<tspan font-size="7.8" dy="-5.6">-9</tspan></text>
<text transform="translate(508.2 326.95) scale(0.91 1)" font-size="11.2" text-anchor="end" fill="#000" stroke="#000" stroke-width="0.22">10<tspan font-size="7.8" dy="-5.6">-8</tspan></text>
<text transform="translate(508.2 311.18) scale(0.91 1)" font-size="11.2" text-anchor="end" fill="#000" stroke="#000" stroke-width="0.22">10<tspan font-size="7.8" dy="-5.6">-7</tspan></text>
<text transform="translate(508.2 295.41) scale(0.91 1)" font-size="11.2" text-anchor="end" fill="#000" stroke="#000" stroke-width="0.22">10<tspan font-size="7.8" dy="-5.6">-6</tspan></text>
<text transform="translate(508.2 279.64) scale(0.91 1)" font-size="11.2" text-anchor="end" fill="#000" stroke="#000" stroke-width="0.22">10<tspan font-size="7.8" dy="-5.6">-5</tspan></text>
<text transform="translate(508.2 263.87) scale(0.91 1)" font-size="11.2" text-anchor="end" fill="#000" stroke="#000" stroke-width="0.22">10<tspan font-size="7.8" dy="-5.6">-4</tspan></text>
<text transform="translate(508.2 248.1) scale(0.91 1)" font-size="11.2" text-anchor="end" fill="#000" stroke="#000" stroke-width="0.22">10<tspan font-size="7.8" dy="-5.6">-3</tspan></text>
<text transform="translate(511.2 417.1) scale(0.91 1)" font-size="12.1" text-anchor="middle" fill="#000" stroke="#000" stroke-width="0.22">-1.0</text>
<text transform="translate(548.12 417.1) scale(0.91 1)" font-size="12.1" text-anchor="middle" fill="#000" stroke="#000" stroke-width="0.22">-0.5</text>
<text transform="translate(585.05 417.1) scale(0.91 1)" font-size="12.1" text-anchor="middle" fill="#000" stroke="#000" stroke-width="0.22">0.0</text>
<text transform="translate(621.98 417.1) scale(0.91 1)" font-size="12.1" text-anchor="middle" fill="#000" stroke="#000" stroke-width="0.22">0.5</text>
<text transform="translate(658.9 417.1) scale(0.91 1)" font-size="12.1" text-anchor="middle" fill="#000" stroke="#000" stroke-width="0.22">1.0</text>
<text transform="translate(560 438.3) scale(0.87 1)" font-size="14.6" text-anchor="start" fill="#000" stroke="#000" stroke-width="0.22">V<tspan font-size="9.0" dy="4.8">gs_eff</tspan><tspan dy="-4.8" dx="1"> (V)</tspan></text>
<text transform="translate(477 338.5) rotate(-90) scale(0.87 1)" font-size="14.6" text-anchor="start" fill="#000" stroke="#000" stroke-width="0.22">I<tspan font-size="9.0" dy="4.8">d</tspan><tspan dy="-4.8" dx="1"> (A)</tspan></text>
<text transform="translate(463 448.2) scale(0.93 1)" font-size="14.8" text-anchor="start" fill="#000" stroke="#000" stroke-width="0.15">(f)</text>
</svg></body></html>
